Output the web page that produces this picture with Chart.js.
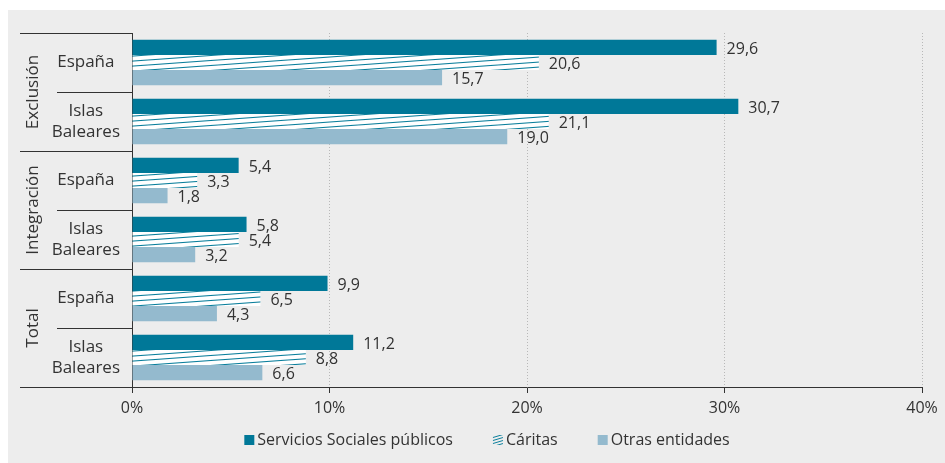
<!DOCTYPE html>
<html>
<head>
<meta charset="utf-8">
<script src="https://cdn.jsdelivr.net/npm/chart.js@4.4.1/dist/chart.umd.min.js"></script>
<style>
    html, body { margin: 0; background: #fff; }
    #box { position: absolute; left: 8px; top: 10px; width: 937px; height: 453px; background: #ededed; }
</style>
</head>
<body>
<div id="box"><canvas id="myChart" width="937" height="453"></canvas></div>
<script>
const groups = ['Exclusión', 'Integración', 'Total'];
const places = ['España', 'Islas Baleares'];
const seriesNames = ['Servicios Sociales públicos', 'Cáritas', 'Otras entidades'];
const serviciosSociales = [29.6, 30.7, 5.4, 5.8, 9.9, 11.2];
const caritas = [20.6, 21.1, 3.3, 5.4, 6.5, 8.8];
const otrasEntidades = [15.7, 19.0, 1.8, 3.2, 4.3, 6.6];
const xTicks = ['0%', '10%', '20%', '30%', '40%'];

const categories = groups.flatMap(g => places.map(p => p.split(' ')));
const FONT = '"Open Sans"';

function makeHatch(w, h, bg, color, lw) {
    const c = document.createElement('canvas');
    c.width = w;
    c.height = h;
    const x = c.getContext('2d');
    if (bg) {
        x.fillStyle = bg;
        x.fillRect(0, 0, w, h);
    }
    x.strokeStyle = color;
    x.lineWidth = lw;
    for (const dy of [-h, 0, h]) {
        x.beginPath();
        x.moveTo(0, h + dy);
        x.lineTo(w, dy);
        x.stroke();
    }
    return x.createPattern(c, 'repeat');
}

const ctx = document.getElementById('myChart');
const barHatch = makeHatch(70, 5, '#ffffff', '#0b7f9c', 1.1);
const legendHatch = makeHatch(10, 3, null, '#0b7f9c', 1);

Chart.defaults.font.family = FONT;
Chart.defaults.color = '#333';

// outer group labels and the separator lines left of the axis
const groupFrame = {
    id: 'groupFrame',
    afterDraw(chart) {
        const y = chart.scales.y;
        const c = chart.ctx;
        const step = y.getPixelForValue(1) - y.getPixelForValue(0);
        c.save();
        c.strokeStyle = '#333';
        c.lineWidth = 1;
        for (let i = 0; i <= categories.length; i++) {
            const py = Math.round(y.getPixelForValue(i) - step / 2) + 0.5;
            const x0 = i % places.length === 0 ? 12 : 49;
            c.beginPath();
            c.moveTo(x0, py);
            c.lineTo(y.right, py);
            c.stroke();
        }
        c.font = '17px ' + FONT;
        c.fillStyle = '#333';
        c.textAlign = 'center';
        c.textBaseline = 'middle';
        groups.forEach((g, k) => {
            const mid = (y.getPixelForValue(k * 2) + y.getPixelForValue(k * 2 + 1)) / 2;
            c.save();
            c.translate(25, mid);
            c.rotate(-Math.PI / 2);
            c.fillText(g, 0, 0);
            c.restore();
        });
        c.restore();
    }
};

const valueLabels = {
    id: 'valueLabels',
    afterDatasetsDraw(chart) {
        const c = chart.ctx;
        c.save();
        c.font = '16px ' + FONT;
        c.fillStyle = '#333';
        c.textBaseline = 'middle';
        chart.data.datasets.forEach((ds, i) => {
            chart.getDatasetMeta(i).data.forEach((bar, j) => {
                c.fillText(ds.data[j].toFixed(1).replace('.', ','), bar.x + 10, bar.y + 2);
            });
        });
        c.restore();
    }
};

// legend drawn by hand so the spacing matches the original
const bottomLegend = {
    id: 'bottomLegend',
    afterDraw(chart) {
        const c = chart.ctx;
        c.save();
        c.font = '16px ' + FONT;
        c.textBaseline = 'middle';
        const fills = chart.data.datasets.map((d, i) => i === 1 ? legendHatch : d.backgroundColor);
        const widths = seriesNames.map(n => 13 + c.measureText(n).width);
        const gap = 40;
        const total = widths.reduce((a, b) => a + b, 0) + gap * (widths.length - 1);
        let x = 479 - total / 2;
        const y = 430;
        seriesNames.forEach((n, i) => {
            c.fillStyle = fills[i];
            c.fillRect(x, y - 5, 10, 10);
            c.fillStyle = '#333';
            c.fillText(n, x + 13, y);
            x += widths[i] + gap;
        });
        c.restore();
    }
};

new Chart(ctx, {
    type: 'bar',
    data: {
        labels: categories,
        datasets: [
            { label: seriesNames[0], data: serviciosSociales, backgroundColor: '#007898' },
            { label: seriesNames[1], data: caritas, backgroundColor: barHatch },
            { label: seriesNames[2], data: otrasEntidades, backgroundColor: '#94bace' }
        ]
    },
    options: {
        responsive: false,
        animation: false,
        events: [],
        indexAxis: 'y',
        layout: { padding: { top: 23, right: 23, left: 0, bottom: 45 } },
        datasets: {
            bar: { categoryPercentage: 0.77, barPercentage: 1, borderWidth: 0 }
        },
        scales: {
            x: {
                min: 0,
                max: 40,
                afterFit(scale) { scale.height = 31; },
                ticks: {
                    stepSize: 10,
                    padding: 6,
                    font: { size: 16 },
                    callback: (v, i) => xTicks[i]
                },
                grid: {
                    color: '#b8b8b8',
                    tickColor: '#333',
                    tickLength: 6
                },
                border: { display: true, color: '#333', dash: [1, 2] }
            },
            y: {
                afterFit(scale) {
                    scale.width = 124;
                    scale.paddingTop = 0;
                    scale.paddingBottom = 0;
                },
                ticks: {
                    crossAlign: 'center',
                    padding: 4,
                    font: { size: 17 }
                },
                grid: { display: false },
                border: { display: true, color: '#333' }
            }
        },
        plugins: {
            tooltip: { enabled: false },
            legend: { display: false }
        }
    },
    plugins: [groupFrame, valueLabels, bottomLegend]
});
</script>
</body>
</html>
